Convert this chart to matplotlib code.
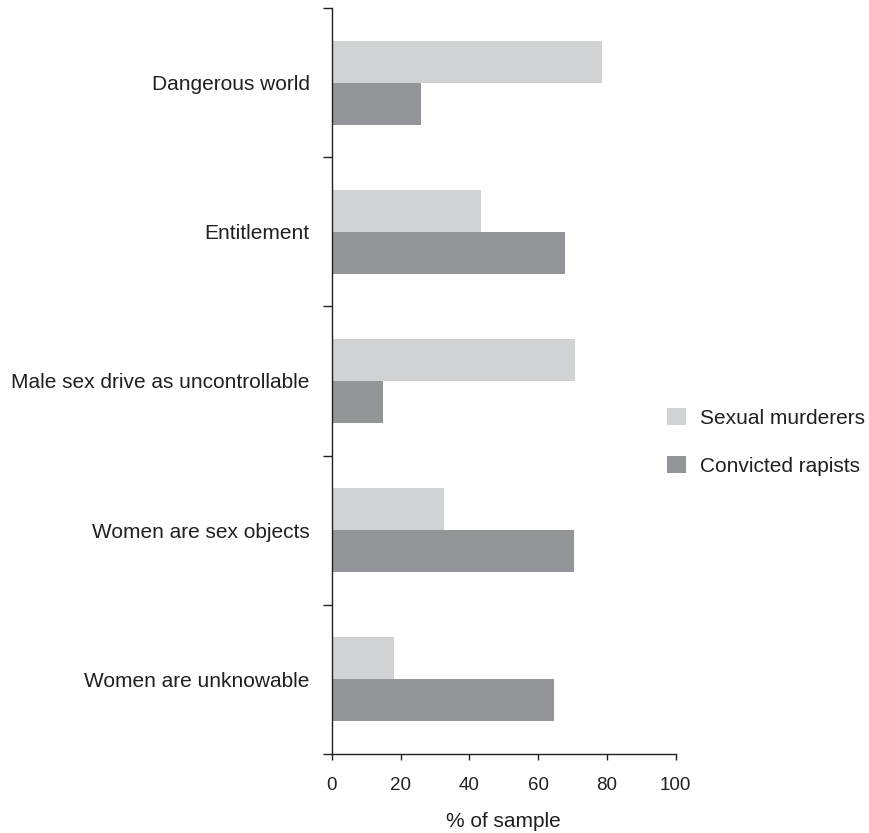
import matplotlib
matplotlib.use("Agg")
import matplotlib.pyplot as plt
import numpy as np

categories = ["Dangerous world", "Entitlement", "Male sex drive as uncontrollable",
              "Women are sex objects", "Women are unknowable"]
sexual_murderers = [78.5, 43.4, 70.7, 32.6, 18.1]
convicted_rapists = [25.9, 67.8, 14.8, 70.4, 64.6]
series_names = ["Sexual murderers", "Convicted rapists"]
xticks = [0, 20, 40, 60, 80, 100]

light = "#d1d2d4"
dark = "#939598"
txt = "#231f20"

plt.rcParams["font.family"] = ["Liberation Sans", "DejaVu Sans"]
plt.rcParams["font.size"] = 15

fig = plt.figure(figsize=(8.69, 8.33), dpi=100)
ax = fig.add_axes([331.7/869, 1-754/833, (675.7-331.7)/869, (754-8)/833])

n = len(categories)
centers = np.arange(n)[::-1] + 0.5
h = 0.282
ax.barh(centers + h/2, sexual_murderers, height=h, color=light, label=series_names[0])
ax.barh(centers - h/2, convicted_rapists, height=h, color=dark, label=series_names[1])

ax.set_xlim(0, 100)
ax.set_ylim(0, n)
ax.set_xticks(xticks)
ax.set_xticklabels([str(v) for v in xticks], color=txt)
ax.set_yticks(np.arange(n + 1))
ax.set_yticklabels([])
ax.set_yticks(centers, minor=True)
ax.set_yticklabels(categories, minor=True, color=txt)
ax.tick_params(axis="y", which="minor", length=0, pad=15.8)
ax.tick_params(axis="y", which="major", length=6.5, width=1, color=txt)
ax.tick_params(axis="x", length=4.5, width=1, color=txt, pad=12, labelsize=13.5)
for s in ["top", "right"]:
    ax.spines[s].set_visible(False)
for s in ["left", "bottom"]:
    ax.spines[s].set_color(txt)
    ax.spines[s].set_linewidth(1)
ax.spines["bottom"].set_bounds(0, 100)
ax.set_xlabel("% of sample", color=txt, labelpad=13)

leg = fig.legend(loc="upper left", bbox_to_anchor=(667/869, 1-408/833), frameon=False,
                 handlelength=0.91, handleheight=0.91, handletextpad=0.67,
                 labelspacing=1.35, borderpad=0, borderaxespad=0, fontsize=15)
for t in leg.get_texts():
    t.set_color(txt)

fig.savefig("out.png", dpi=100)
